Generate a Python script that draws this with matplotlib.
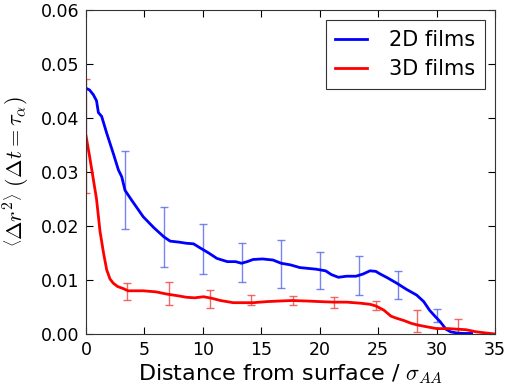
import matplotlib
matplotlib.use("Agg")
import matplotlib.pyplot as plt

# mean squared displacement profile vs. depth, 2D and 3D films
blue_x = [0, 0.3, 0.63, 0.9, 1.06, 1.34, 1.77, 2.34, 2.77, 3.06, 3.34, 3.9, 4.9,
          5.8, 6.66, 7.2, 8.0, 8.6, 9.2, 9.8, 10.5, 11.2, 12.1, 12.8, 13.3, 13.8,
          14.3, 15.1, 16.0, 16.7, 17.5, 18.3, 19.7, 20.5, 21.0, 21.6, 22.3, 23.1,
          23.7, 24.3, 24.8, 25.1, 25.8, 26.6, 27.4, 28.3, 28.9, 29.4, 29.9, 30.3,
          30.8, 31.2, 31.7, 32.3, 33.0]
blue_y = [0.0455, 0.0452, 0.0443, 0.0432, 0.0410, 0.0403, 0.0372, 0.0334, 0.0304,
          0.0291, 0.0266, 0.0248, 0.0217, 0.0197, 0.0180, 0.0172, 0.0170, 0.0168,
          0.0167, 0.0159, 0.0150, 0.0140, 0.0134, 0.0134, 0.0131, 0.0134, 0.0138,
          0.0139, 0.0137, 0.0131, 0.0128, 0.0123, 0.0120, 0.0117, 0.0110, 0.0105,
          0.0107, 0.0107, 0.0111, 0.0117, 0.0116, 0.0112, 0.0104, 0.0094, 0.0083,
          0.0072, 0.0060, 0.0044, 0.0032, 0.0023, 0.0009, 0.0004, 0.0002, 0.0001,
          0.0001]

red_x = [0, 0.3, 0.6, 0.9, 1.2, 1.5, 1.77, 2.05, 2.34, 2.7, 3.2, 3.6, 4.9, 6.0,
         6.9, 7.8, 8.6, 9.3, 10.06, 10.8, 11.5, 12.6, 13.5, 14.3, 15.5, 16.5,
         17.6, 19.0, 20.0, 21.2, 22.3, 23.5, 24.3, 24.8, 25.5, 26.1, 26.6, 27.2,
         27.8, 28.3, 29.0, 30.0, 31.0, 31.7, 32.5, 33.4, 34.2, 35.0]
red_y = [0.0367, 0.0330, 0.0290, 0.0250, 0.0190, 0.0150, 0.0119, 0.0102, 0.0094,
         0.0088, 0.0084, 0.0080, 0.0080, 0.0078, 0.0074, 0.0071, 0.0068, 0.0067,
         0.0069, 0.0066, 0.0062, 0.0058, 0.0058, 0.0058, 0.0060, 0.0061, 0.0062,
         0.0061, 0.0060, 0.0059, 0.0059, 0.0057, 0.0055, 0.0052, 0.0044, 0.0033,
         0.0029, 0.0025, 0.0020, 0.0017, 0.0014, 0.0010, 0.0010, 0.0009, 0.0008,
         0.0004, 0.0002, 0.0]

# error bars (centre, half width)
blue_err_x = [3.33, 6.67, 10.0, 13.33, 16.67, 20.0, 23.33, 26.67, 30.0]
blue_err_y = [0.0266, 0.0180, 0.0157, 0.0133, 0.0130, 0.0117, 0.0108, 0.0090, 0.0035]
blue_err = [0.0072, 0.0055, 0.0046, 0.0036, 0.0045, 0.0034, 0.0036, 0.0026, 0.0012]

red_err_x = [0, 3.54, 7.08, 10.62, 14.16, 17.7, 21.24, 24.78, 28.32, 31.86]
red_err_y = [0.0367, 0.0079, 0.0075, 0.0065, 0.0063, 0.0062, 0.0058, 0.0053, 0.0024, 0.0014]
red_err = [0.0105, 0.0016, 0.0021, 0.0016, 0.0009, 0.0008, 0.0010, 0.0009, 0.0020, 0.0013]

plt.rcParams["mathtext.fontset"] = "cm"
plt.rcParams["xtick.direction"] = "in"
plt.rcParams["ytick.direction"] = "in"

fig = plt.figure(figsize=(5.06, 3.89), dpi=100)
ax = fig.add_axes([86 / 506, 1 - 334 / 389, 409 / 506, 324 / 389])

ax.errorbar(blue_err_x, blue_err_y, yerr=blue_err, fmt="none", ecolor="#5566ee",
            elinewidth=1, capsize=3, alpha=0.8)
ax.errorbar(red_err_x, red_err_y, yerr=red_err, fmt="none", ecolor="#ee4444",
            elinewidth=1, capsize=3, alpha=0.8)
ax.plot(blue_x, blue_y, color="#0000ff", lw=2, label="2D films")
ax.plot(red_x, red_y, color="#ff0000", lw=2, label="3D films")

ax.set_xlim(0, 35)
ax.set_ylim(0, 0.06)
ax.set_xticks([0, 5, 10, 15, 20, 25, 30, 35])
ax.set_yticks([0.0, 0.01, 0.02, 0.03, 0.04, 0.05, 0.06])
ax.set_yticklabels(["0.00", "0.01", "0.02", "0.03", "0.04", "0.05", "0.06"])
ax.tick_params(top=True, right=True, labelsize=12.5, length=5, width=0.8, pad=5)
for s in ax.spines.values():
    s.set_color("#333333")

ax.set_xlabel(r"Distance from surface / $\sigma_{AA}$", fontsize=16, labelpad=2)
ax.set_ylabel(r"$\left\langle \Delta r^2 \right\rangle$ $(\Delta t = \tau_\alpha)$",
              fontsize=16, labelpad=6)

leg = ax.legend(loc="upper right", fontsize=15, fancybox=False, framealpha=1,
                edgecolor="#333333", handlelength=1.55, handletextpad=1.05,
                labelspacing=0.45, borderpad=0.45, borderaxespad=0.5)
leg.get_frame().set_linewidth(0.8)

fig.savefig("out.png", dpi=100)
